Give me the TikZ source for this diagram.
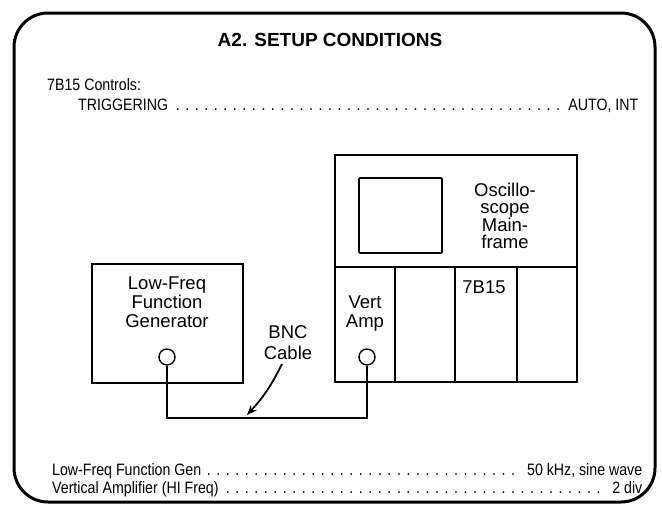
\documentclass[tikz,border=0pt]{standalone}
\usepackage{fontspec}
\setmainfont{Liberation Sans}
\newfontfamily\narrowfont[FakeStretch=0.86]{Liberation Sans}
\usetikzlibrary{arrows.meta}
\newcommand{\dotlead}{\leaders\hbox to 9.5pt{\hss.\hss}\hfill}
\tikzset{
  lbl/.style={font=\fontsize{18.5}{19}\selectfont, align=center, inner sep=0pt},
  txt/.style={font=\narrowfont\fontsize{16.5}{18}\selectfont, anchor=base west, inner sep=0pt},
  unit/.style={line width=2.8pt},
  port/.style={circle, draw, line width=1.4pt, minimum size=16pt, inner sep=0pt, fill=white}
}

\begin{document}
\begin{tikzpicture}[x=1pt,y=-1pt]
    \useasboundingbox (0,0) rectangle (662,504);
    % Frame and title
    \draw[line width=3pt, rounded corners=34pt] (14,13) rectangle (655,502);
    \node[font=\bfseries\fontsize{19}{20}\selectfont, inner sep=0pt] (title) at (330,40) {A2. SETUP CONDITIONS};
    \node[txt] (ctrl) at (47,90) {7B15 Controls:};
    \node[txt] (trig) at (78,110) {\hbox to 560pt{TRIGGERING\dotlead AUTO, INT}};
    % Generator
    \draw[unit] (92,264) rectangle (243,383);
    \node[lbl] (genlbl) at (167,302) {Low-Freq\\Function\\Generator};
    \node[port] (genport) at (167,357) {};
    % Mainframe
    \draw[unit] (335,155) rectangle (577,382);
    \draw[line width=2.2pt] (335,267) -- (577,267);
    \foreach \x in {395,455,517}
      \draw[line width=2.2pt] (\x,267) -- (\x,382);
    \draw[line width=1.8pt, rounded corners=1pt] (359,178) rectangle (442,253);
    \node[lbl, font=\fontsize{18.5}{17.5}\selectfont] (scope) at (505,216) {Oscillo-\\scope\\Main-\\frame};
    \node[lbl] (plugin) at (484,287) {7B15};
    \node[lbl] (vert) at (365,314) {Vert\\Amp};
    \node[port] (ampport) at (367,357) {};
    % Cable
    \coordinate (cablel) at (167,418);
    \coordinate (tip) at (247,415);
    \draw[line width=2.2pt] (genport.south) -- (cablel) -| (ampport.south);
    \node[lbl, font=\fontsize{18.5}{21}\selectfont] (bnc) at (288,343) {BNC\\Cable};
    \draw[line width=1.8pt, -{Stealth[length=10pt,width=8pt]}] (282,364) to[bend left=8] (tip);
    % Settings
    \node[txt] (gen) at (52,475) {\hbox to 590pt{Low-Freq Function Gen\dotlead\hspace{5pt}50 kHz, sine wave}};
    \node[txt] (amp) at (52,493) {\hbox to 590pt{Vertical Amplifier (HI Freq)\dotlead\hspace{5pt}2 div}};
\end{tikzpicture}
\end{document}
